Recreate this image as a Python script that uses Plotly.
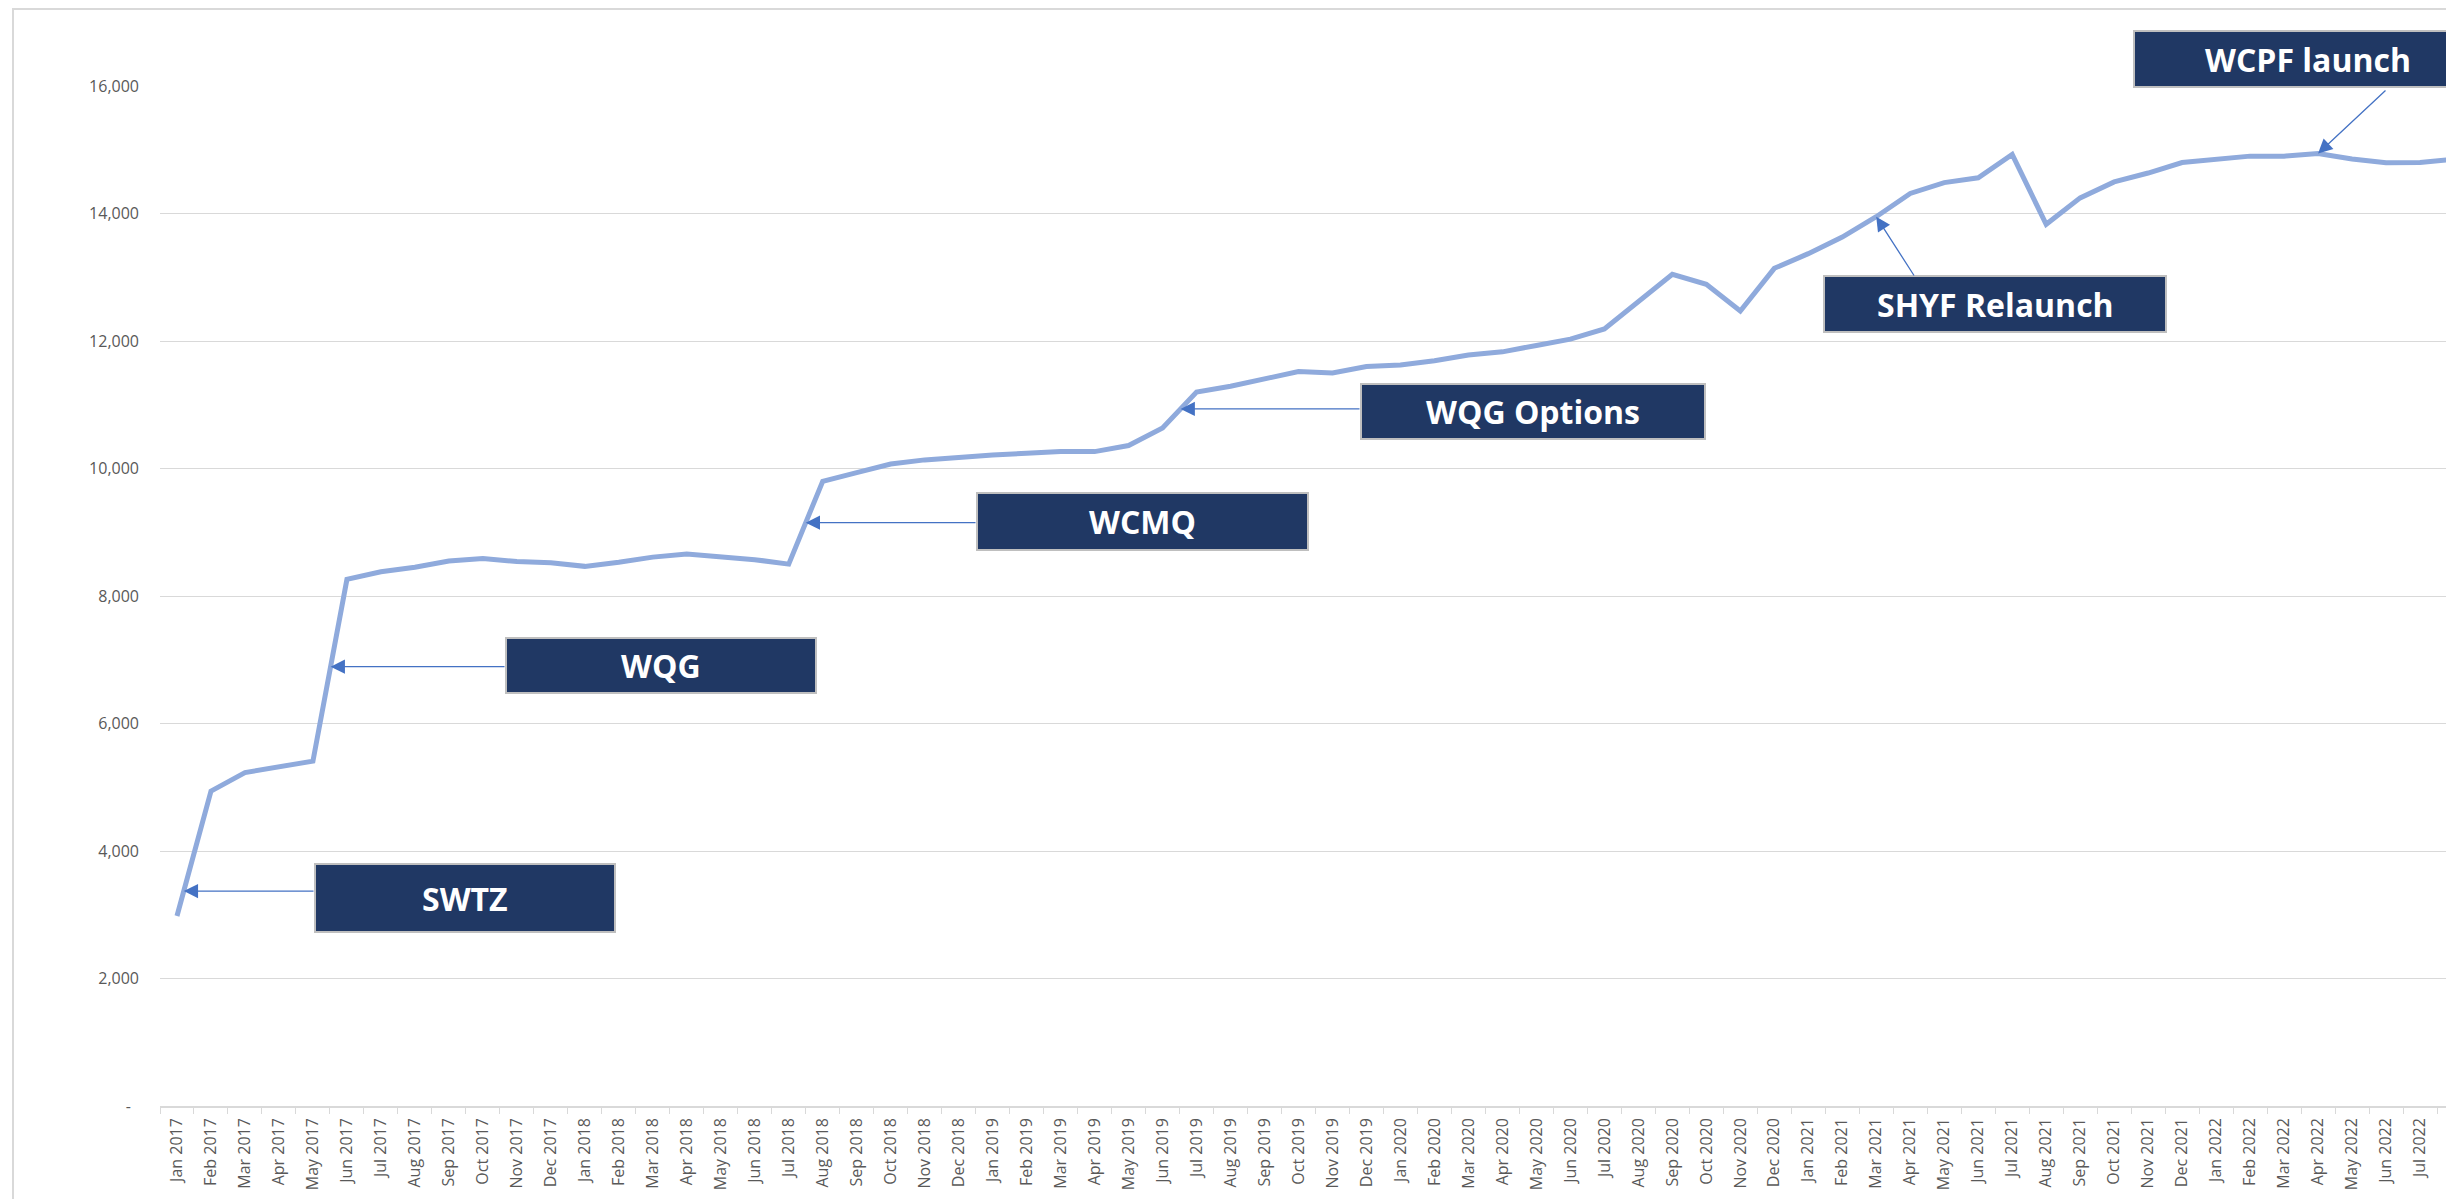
import plotly.graph_objects as go

# ---------------- data ----------------
MONTHS = ["Jan", "Feb", "Mar", "Apr", "May", "Jun", "Jul", "Aug", "Sep", "Oct", "Nov", "Dec"]
YEARS = [2017, 2018, 2019, 2020, 2021, 2022]
N_POINTS = 68  # Jan 2017 .. Aug 2022
categories = [f"{m} {y}" for y in YEARS for m in MONTHS][:N_POINTS]

values = [
    2980, 4940, 5230, 5320, 5410, 8260, 8380, 8450, 8550, 8590, 8540, 8520,      # 2017
    8465, 8530, 8610, 8660, 8620, 8570, 8500, 9800, 9935, 10070, 10135, 10180,   # 2018
    10210, 10240, 10265, 10265, 10360, 10635, 11200, 11290, 11405, 11520, 11500, 11600,  # 2019
    11625, 11690, 11780, 11830, 11930, 12030, 12190, 12620, 13045, 12890, 12470, 13140,  # 2020
    13370, 13630, 13950, 14315, 14485, 14560, 14925, 13830, 14245, 14495, 14635, 14800,  # 2021
    14855, 14900, 14900, 14940, 14855, 14795, 14800, 14850,                      # 2022
]

y_tickvals = [0, 2000, 4000, 6000, 8000, 10000, 12000, 14000, 16000]
y_ticktext = ["-\u2002", "2,000", "4,000", "6,000", "8,000", "10,000", "12,000", "14,000", "16,000"]

event_labels = ["SWTZ", "WQG", "WCMQ", "WQG Options", "SHYF Relaunch", "WCPF launch"]
event_index = [0.2, 4.52, 18.5, 29.53, 50.0, 63.0]   # fractional category position pointed at

# ---------------- layout geometry ----------------
# page pixels (screenshot coordinates); the page body has an 8px margin
OFF = 8
PAGE_W, PAGE_H = 2454, 1199
W, H = PAGE_W - OFF, PAGE_H - OFF
L, R, T, B = 160 - OFF, 2454 - OFF, 86 - OFF, 1106 - OFF   # plot area in figure pixels
X_MIN, X_MAX = -0.5, 67.0
Y_MIN, Y_MAX = 0, 16000

def px_to_paper(px, py):
    px, py = px - OFF, py - OFF
    return (px - L) / (R - L), (B - py) / (B - T)

def px_to_data(px, py):
    px, py = px - OFF, py - OFF
    x = X_MIN + (px - L) / (R - L) * (X_MAX - X_MIN)
    y = Y_MIN + (B - py) / (B - T) * (Y_MAX - Y_MIN)
    return x, y

def interp(idx):
    i = int(idx)
    f = idx - i
    if i + 1 >= len(values):
        return values[i]
    return values[i] + f * (values[i + 1] - values[i])

# box rectangles (x0, y0, x1, y1 in page px)
boxes_px = [
    (315, 864, 615, 932),
    (506, 638, 816, 693),
    (977, 493, 1308, 550),
    (1361, 384, 1705, 439),
    (1824, 276, 2166, 332),
    (2134, 31, 2482, 87),
]
# arrow tails: None => horizontal from the box's left edge at the tip height
arrow_tails_px = [None, None, None, None, (1915, 277), (2387, 89)]

NAVY = "#203864"
BOX_BORDER = "#BFBFBF"
LINE_COLOR = "#8FAADC"
ARROW_COLOR = "#4472C4"
GRID = "#D9D9D9"
TICK_FONT = dict(family="Open Sans", size=16, color="#595959")

fig = go.Figure()
fig.add_trace(go.Scatter(
    x=categories, y=values, mode="lines",
    line=dict(color=LINE_COLOR, width=5),
    hoverinfo="x+y", showlegend=False,
))

shapes = []
annotations = []

# chart outer border (Excel chart area)
bx0, by1 = px_to_paper(13, 9)
bx1, by0 = px_to_paper(2470, 1215)
shapes.append(dict(type="rect", xref="paper", yref="paper",
                   x0=bx0, y0=by0, x1=bx1, y1=by1,
                   line=dict(color=GRID, width=2), fillcolor="rgba(0,0,0,0)", layer="below"))

for label, idx, (x0p, y0p, x1p, y1p), tail in zip(event_labels, event_index, boxes_px, arrow_tails_px):
    px0, py0 = px_to_paper(x0p, y1p)
    px1, py1 = px_to_paper(x1p, y0p)
    shapes.append(dict(type="rect", xref="paper", yref="paper",
                       x0=px0, y0=py0, x1=px1, y1=py1,
                       line=dict(color=BOX_BORDER, width=2), fillcolor=NAVY, layer="above"))
    cx, cy = px_to_paper((x0p + x1p) / 2, (y0p + y1p) / 2)
    annotations.append(dict(xref="paper", yref="paper", x=cx, y=cy, text=f"<b>{label}</b>",
                            showarrow=False, xanchor="center", yanchor="middle",
                            font=dict(family="Open Sans", size=32, color="white")))
    tip_x, tip_y = idx, interp(idx)
    if tail is None:
        tx, _ = px_to_data(x0p, 0)
        ty = tip_y
    else:
        tx, ty = px_to_data(*tail)
    annotations.append(dict(xref="x", yref="y", axref="x", ayref="y",
                            x=tip_x, y=tip_y, ax=tx, ay=ty, text="",
                            showarrow=True, arrowhead=2, arrowsize=2.2, arrowwidth=1.3,
                            arrowcolor=ARROW_COLOR, standoff=0, startstandoff=0))

fig.update_layout(
    width=W, height=H,
    margin=dict(l=L, r=W - R, t=T, b=H - B, autoexpand=False),
    paper_bgcolor="white", plot_bgcolor="white",
    shapes=shapes, annotations=annotations,
    showlegend=False,
)
fig.update_xaxes(
    type="category", range=[X_MIN, X_MAX],
    tickmode="linear", tick0=0, dtick=1,
    tickson="boundaries", ticks="outside", ticklen=6, tickcolor=GRID, tickwidth=1.3,
    showline=True, linecolor=GRID, linewidth=1.5,
    showgrid=False, tickangle=-90, tickfont=TICK_FONT, ticklabelstandoff=4,
    automargin=False,
)
fig.update_yaxes(
    range=[Y_MIN, Y_MAX], tickmode="array", tickvals=y_tickvals, ticktext=y_ticktext,
    showgrid=True, gridcolor=GRID, gridwidth=1.3, zeroline=False, showline=False,
    ticks="", tickfont=TICK_FONT, ticklabelstandoff=20, automargin=False,
)

fig.write_html("out.html")
